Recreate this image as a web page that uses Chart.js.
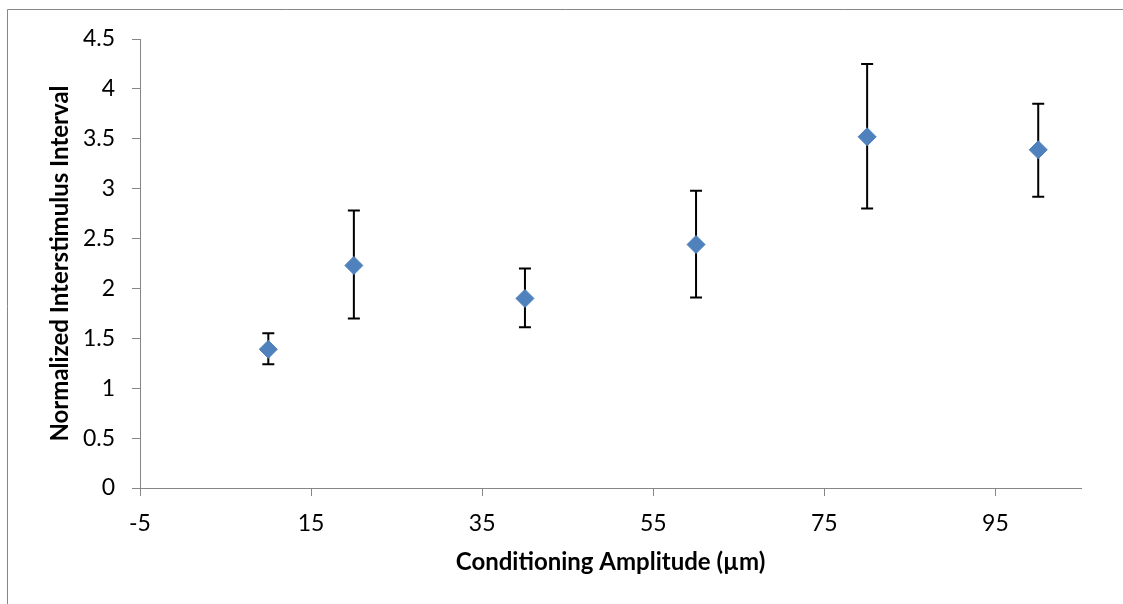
<!DOCTYPE html>
<html>
<head>
	<title></title>
	<style>
		html, body { margin: 0; background: #fff; overflow: hidden; }
		#chartBox { position: relative; width: 1123px; height: 604px; }
	</style>
</head>
<body>
<div id="chartBox"><canvas id="scatterChart"></canvas></div>
<script src="https://cdn.jsdelivr.net/npm/chart.js@4/dist/chart.umd.min.js"></script>
<script>
// amplitude (um) and normalized ISI with error bar ends
var AMPLITUDE = [10, 20, 40, 60, 80, 100];
var ISI_MEAN  = [1.39, 2.23, 1.90, 2.44, 3.52, 3.39];
var ISI_HIGH  = [1.55, 2.78, 2.20, 2.98, 4.25, 3.85];
var ISI_LOW   = [1.24, 1.70, 1.61, 1.91, 2.80, 2.92];
var X_TICKS = [-5, 15, 35, 55, 75, 95];

var points = [];
for (var i = 0; i < AMPLITUDE.length; i++) {
	points.push({x: AMPLITUDE[i], y: ISI_MEAN[i]});
}

var axisGrey = '#868686';
var fontName = 'Lato, "Open Sans", sans-serif';

// outer chart frame (only top and left edges show in the picture)
var frame = {
	id: 'frame',
	beforeDraw: function(chart) {
		var ctx = chart.ctx;
		ctx.save();
		ctx.strokeStyle = axisGrey;
		ctx.lineWidth = 1;
		ctx.beginPath();
		ctx.moveTo(7.5, chart.height);
		ctx.lineTo(7.5, 9.5);
		ctx.lineTo(chart.width, 9.5);
		ctx.stroke();
		ctx.restore();
	}
};

// draw the error bars under the diamonds
var errorBars = {
	id: 'errorBars',
	beforeDatasetsDraw: function(chart) {
		var ctx = chart.ctx;
		var xs = chart.scales.x, ys = chart.scales.y;
		ctx.save();
		ctx.strokeStyle = '#000';
		ctx.lineWidth = 2;
		for (var i = 0; i < AMPLITUDE.length; i++) {
			var px = xs.getPixelForValue(AMPLITUDE[i]);
			var top = ys.getPixelForValue(ISI_HIGH[i]);
			var bot = ys.getPixelForValue(ISI_LOW[i]);
			ctx.beginPath();
			ctx.moveTo(px, top); ctx.lineTo(px, bot);
			ctx.moveTo(px - 6, top); ctx.lineTo(px + 6, top);
			ctx.moveTo(px - 6, bot); ctx.lineTo(px + 6, bot);
			ctx.stroke();
		}
		ctx.restore();
	}
};

var ctxS = document.getElementById('scatterChart').getContext('2d');
var myChart = new Chart(ctxS, {
	type: 'scatter',
	data: {
		datasets: [{
			label: 'Normalized ISI',
			data: points,
			pointStyle: 'rectRot',
			pointRadius: 9,
			pointHoverRadius: 9,
			backgroundColor: '#4F81BD',
			borderColor: '#4F81BD',
			borderWidth: 1
		}]
	},
	options: {
		responsive: true,
		maintainAspectRatio: false,
		animation: false,
		layout: { padding: { left: 0, right: 42, top: 39, bottom: 0 } },
		plugins: {
			legend: { display: false },
			tooltip: { enabled: false }
		},
		scales: {
			x: {
				type: 'linear',
				min: -5,
				max: 105,
				afterBuildTicks: function(scale) {
					scale.ticks = X_TICKS.map(function(v) { return {value: v}; });
				},
				afterFit: function(scale) { scale.height = 116; },
				grid: { drawOnChartArea: false, color: axisGrey, tickLength: 8 },
				border: { color: axisGrey, width: 1 },
				ticks: {
					color: '#000',
					padding: 14,
					font: { family: fontName, size: 23 },
					callback: function(v) { return String(v); }
				},
				title: {
					display: true,
					text: 'Conditioning Amplitude (\u00b5m)',
					color: '#000',
					font: { family: fontName, size: 24, weight: 'bold' },
					padding: { top: 0, bottom: 27 }
				}
			},
			y: {
				min: 0,
				max: 4.5,
				afterFit: function(scale) { scale.width = 140; },
				grid: { drawOnChartArea: false, color: axisGrey, tickLength: 8 },
				border: { color: axisGrey, width: 1 },
				ticks: {
					stepSize: 0.5,
					color: '#000',
					padding: 17,
					font: { family: fontName, size: 23 },
					callback: function(v) { return String(v); }
				},
				title: {
					display: true,
					text: 'Normalized Interstimulus Interval',
					color: '#000',
					font: { family: fontName, size: 24, weight: 'bold' },
					padding: { top: 46, bottom: 0 }
				}
			}
		}
	},
	plugins: [frame, errorBars]
});
</script>
</body>
</html>
